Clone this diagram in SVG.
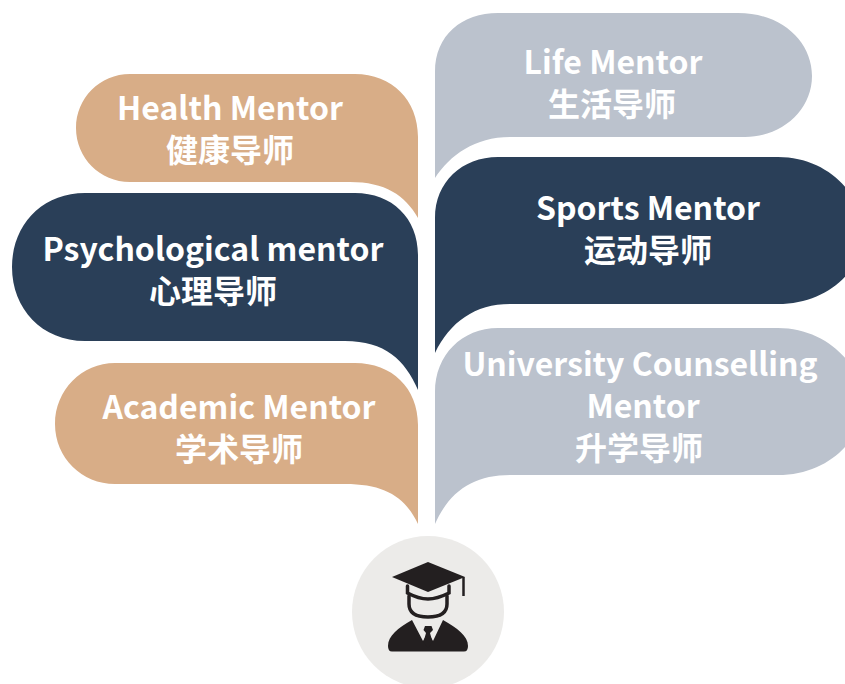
<svg xmlns="http://www.w3.org/2000/svg" width="845" height="684" viewBox="0 0 845 684">
<style>
.t{font-family:"Noto Sans CJK SC","Noto Sans",sans-serif;font-weight:700;fill:#fff;font-size:32px;text-anchor:middle}
.tan{fill:#d8ad87}.navy{fill:#2a3f58}.gray{fill:#bbc2cd}
.ln{fill:none;stroke:#231f20;stroke-width:3.5;stroke-linecap:round}
</style>
<g id="life"><path class="gray" d="M435 178V72C435 35 462 13 498 13H738C782 13 812 42 812 76C812 110 782 137 745 137H510C475 137 450 155 435 178Z"/><text class="t" x="613" y="74">Life Mentor</text><text class="t" x="612" y="116">生活导师</text></g>
<g id="sports"><path class="navy" d="M435 353V218C435 182 462 157 498 157H778C815 157 845 178 856 205V260C845 285 815 304 778 304H510C475 304 450 322 435 353Z"/><text class="t" x="648" y="220">Sports Mentor</text><text class="t" x="648" y="262">运动导师</text></g>
<g id="university"><path class="gray" d="M435 524V392C435 355 462 328 498 328H778C815 328 845 350 856 375V430C845 455 815 475 778 475H510C475 475 450 490 435 524Z"/><text class="t" x="640" y="376">University Counselling</text><text class="t" x="643" y="418">Mentor</text><text class="t" x="639" y="460">升学导师</text></g>
<g id="health"><path class="tan" d="M418 218V137C418 100 392 74 355 74H130C100 74 76 98 76 128C76 158 100 182 130 182H350C385 182 405 195 418 218Z"/><text class="t" x="230" y="120">Health Mentor</text><text class="t" x="230" y="162">健康导师</text></g>
<g id="psychological"><path class="navy" d="M418 390V255C418 218 392 193 355 193H85C42 193 12 225 12 267C12 309 42 341 85 341H345C385 341 405 360 418 390Z"/><text class="t" x="213" y="261">Psychological mentor</text><text class="t" x="213" y="303">心理导师</text></g>
<g id="academic"><path class="tan" d="M418 524V425C418 388 392 363 355 363H115C82 363 55 390 55 424C55 458 82 484 115 484H345C385 484 405 497 418 524Z"/><text class="t" x="239" y="419">Academic Mentor</text><text class="t" x="239" y="461">学术导师</text></g>
<g id="student">
<circle cx="428" cy="612" r="76" fill="#ecebe9"/>
<path fill="#231f20" d="M392 577L428 562L465 577L428 592Z"/>
<path fill="none" stroke="#231f20" stroke-width="2.5" d="M463.500 577V596"/>
<path class="ln" d="M407.500 586V593C415 597 421 599 428 599C435 599 441 597 449 593V586"/>
<path class="ln" d="M409 596V604C409 614 418 617 428 617C438 617 447 614 447 604V596"/>
<path fill="#231f20" d="M392 651.500Q388 651.500 388 646C388 636 398 628 412 620L423 641L428 632L433 641L443 620C457 628 468 636 468 646Q468 651.500 464 651.500Z"/>
<path fill="#231f20" d="M425 626H431.500L433 630L430 633L432.500 642L428 648L423.500 642L426 633L423.500 630Z"/>
</g>
<g id="connectors"></g>
</svg>
